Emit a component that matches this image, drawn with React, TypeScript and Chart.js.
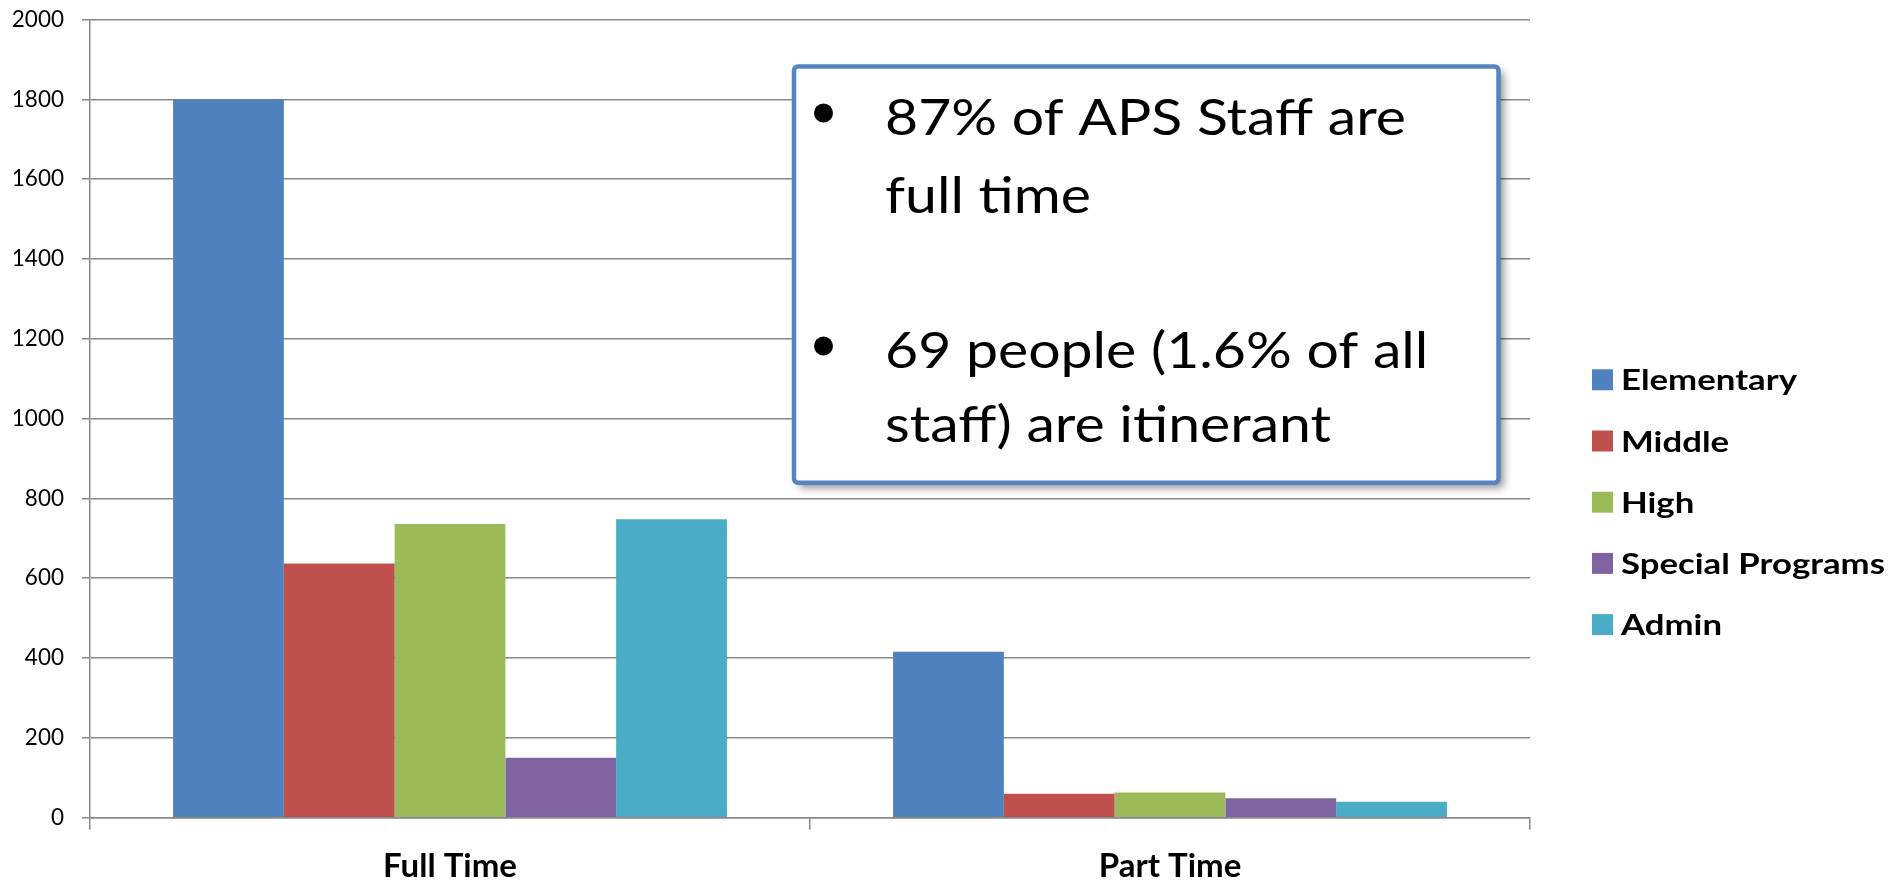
import React, { useEffect, useRef } from "react";
import { Chart, registerables } from "chart.js";

Chart.register(...registerables);

// ---- data ----
const categories = ["Full Time", "Part Time"];
const seriesNames = ["Elementary", "Middle", "High", "Special Programs", "Admin"];
const elementary = [1800, 416];
const middle = [637, 60];
const high = [736, 63];
const specialPrograms = [150, 49];
const admin = [748, 40];
const seriesColors = ["#4F81BD", "#C0504D", "#9BBB59", "#8064A2", "#4BACC6"];
const yMin = 0;
const yMax = 2000;
const yStep = 200;
const noteBullet1 = ["87% of APS Staff are", "full time"];
const noteBullet2 = ["69 people (1.6% of all", "staff) are itinerant"];

const W = 1893;
const H = 881;

const legendPlugin = {
  id: "customLegend",
  afterDraw(chart: any) {
    const ctx = chart.ctx;
    const ds = chart.data.datasets;
    ctx.save();
    ctx.font = "bold 29px Lato";
    ctx.textBaseline = "alphabetic";
    ctx.textAlign = "left";
    // horizontal stretch so the widest label spans like the reference
    let widest = 0;
    ds.forEach((d: any) => {
      widest = Math.max(widest, ctx.measureText(d.label).width);
    });
    const sx = widest > 0 ? 264 / widest : 1;
    const boxX = 1592;
    const boxS = 21;
    const top0 = 369.3;
    const step = 61.2;
    ds.forEach((d: any, i: number) => {
      const y = top0 + i * step;
      ctx.fillStyle = d.backgroundColor;
      ctx.fillRect(boxX, y, boxS, boxS);
      ctx.fillStyle = "#000";
      ctx.save();
      ctx.translate(1621, y + boxS);
      ctx.scale(sx, 1);
      ctx.fillText(d.label, 0, 0);
      ctx.restore();
    });
    ctx.restore();
  },
};

const notePlugin = {
  id: "noteBox",
  afterDraw(chart: any) {
    const ctx = chart.ctx;
    ctx.save();
    const x = 794, y = 66.5, w = 704.5, h = 416.3;
    // shadow
    ctx.shadowColor = "rgba(0,0,0,0.45)";
    ctx.shadowBlur = 9;
    ctx.shadowOffsetX = 5;
    ctx.shadowOffsetY = 5;
    ctx.fillStyle = "#ffffff";
    ctx.beginPath();
    ctx.roundRect(x, y, w, h, 4);
    ctx.fill();
    ctx.shadowColor = "transparent";
    ctx.lineWidth = 4.5;
    ctx.strokeStyle = "#5584C0";
    ctx.stroke();
    // text
    ctx.fillStyle = "#000";
    ctx.font = "50px Lato";
    ctx.textBaseline = "alphabetic";
    ctx.textAlign = "left";
    const sx = 521 / ctx.measureText(noteBullet1[0]).width;
    const tx = 885;
    const lines = [
      { t: noteBullet1[0], b: 135, bullet: true },
      { t: noteBullet1[1], b: 213, bullet: false },
      { t: noteBullet2[0], b: 368, bullet: true },
      { t: noteBullet2[1], b: 441.7, bullet: false },
    ];
    lines.forEach((l) => {
      ctx.save();
      ctx.translate(tx, l.b);
      ctx.scale(sx, 1);
      ctx.fillText(l.t, 0, 0);
      ctx.restore();
      if (l.bullet) {
        ctx.beginPath();
        ctx.arc(823.5, l.b - 22, 9.5, 0, Math.PI * 2);
        ctx.fill();
      }
    });
    ctx.restore();
  },
};

export default function App() {
  const ref = useRef<HTMLCanvasElement | null>(null);
  useEffect(() => {
    document.body.style.margin = "0";
    let chart: Chart | null = null;
    let cancelled = false;
    const make = () => {
      if (cancelled || !ref.current) return;
      const seriesValues = [elementary, middle, high, specialPrograms, admin];
      chart = new Chart(ref.current, {
        type: "bar",
        data: {
          labels: categories,
          datasets: seriesNames.map((name, i) => ({
            label: name,
            data: seriesValues[i],
            backgroundColor: seriesColors[i],
            borderWidth: 0,
            categoryPercentage: 5 / 6.5,
            barPercentage: 1,
          })),
        },
        options: {
          responsive: false,
          animation: false,
          devicePixelRatio: 1,
          layout: { padding: { top: 19.5, right: W - 1530, left: 0, bottom: 0 } },
          plugins: {
            legend: { display: false },
            tooltip: { enabled: false },
            title: { display: false },
          },
          scales: {
            x: {
              offset: true,
              grid: {
                offset: true,
                drawOnChartArea: false,
                drawTicks: true,
                tickLength: 12,
                color: "#878787",
                lineWidth: 1.5,
              },
              border: { display: true, color: "#878787", width: 1.5 },
              ticks: {
                color: "#000",
                font: { family: "Lato", size: 33, weight: "bold" },
                padding: 17,
                maxRotation: 0,
              },
              afterFit(scale: any) {
                scale.height = H - 817.7;
                scale.paddingLeft = 0;
                scale.paddingRight = 0;
              },
            },
            y: {
              min: yMin,
              max: yMax,
              ticks: {
                stepSize: yStep,
                color: "#000",
                font: { family: "Lato", size: 22.5 },
                padding: 18,
                callback: (v: any) => String(v),
              },
              grid: {
                color: "#878787",
                lineWidth: 1.5,
                drawTicks: true,
                tickLength: 8,
              },
              border: { display: true, color: "#878787", width: 1.5 },
              afterFit(scale: any) {
                scale.width = 90;
                scale.paddingTop = 0;
                scale.paddingBottom = 0;
              },
            },
          },
        },
        plugins: [notePlugin, legendPlugin],
      });
    };
    const fonts: any = (document as any).fonts;
    if (fonts && fonts.load) {
      Promise.all([
        fonts.load("22px Lato"),
        fonts.load("50px Lato"),
        fonts.load("bold 29px Lato"),
      ])
        .catch(() => null)
        .then(make);
    } else {
      make();
    }
    return () => {
      cancelled = true;
      if (chart) chart.destroy();
    };
  }, []);
  return (
    <div style={{ width: W, height: H, background: "#fff" }}>
      <canvas ref={ref} width={W} height={H} style={{ display: "block" }} />
    </div>
  );
}
